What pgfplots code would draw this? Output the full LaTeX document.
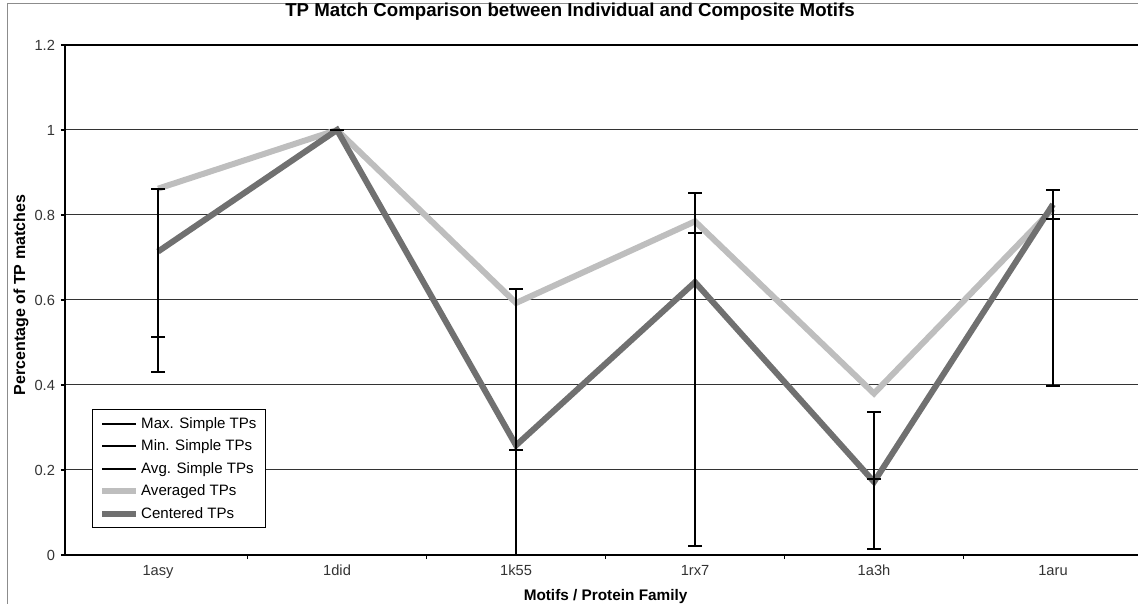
\documentclass[border=0pt]{standalone}
\usepackage{fontspec}
\setmainfont{Liberation Sans}
\usepackage{pgfplots}
\usepackage{pgfplotstable}
\pgfplotsset{compat=1.18}
\definecolor{lightg}{HTML}{BEBEBE}
\definecolor{darkg}{HTML}{707070}
\pgfplotstableread{
x max min avg averaged centered
0 0.860 0.430 0.514 0.862 0.714
1 1.000 1.000 1.000 1.000 1.000
2 0.625 0.000 0.247 0.593 0.258
3 0.851 0.021 0.758 0.785 0.642
4 0.337 0.013 0.178 0.380 0.172
5 0.859 0.398 0.790 0.815 0.825
}\datatable
\begin{document}
\begin{tikzpicture}
\path[use as bounding box] (-48.75pt,-36pt) rectangle (804.75pt,416.25pt);
\draw[black!45, line width=0.75pt] (-42.75pt,-40pt) -- (-42.75pt,413.25pt) -- (820pt,413.25pt);
\begin{axis}[
  name=ax,
  at={(0pt,0pt)}, anchor=south west,
  scale only axis,
  width=804.75pt, height=382.5pt,
  xmin=-0.52, xmax=5.475,
  ymin=0, ymax=1.2,
  axis line style={draw=none},
  ytick={0,0.2,...,1.2},
  ymajorgrids,
  major grid style={black!80, line width=0.75pt},
  xtick={0.5,1.5,2.5,3.5,4.5},
  xticklabels={},
  extra x ticks={0,1,2,3,4,5},
  extra x tick labels={1asy,1did,1k55,1rx7,1a3h,1aru},
  extra x tick style={major tick length=0pt, grid=none},
  tick align=outside,
  major tick length=3pt,
  tick style={black, line width=0.9pt},
  xtick pos=bottom, ytick pos=left,
  ticklabel style={font=\fontsize{11}{13}\selectfont, text=black!80},
  /pgf/number format/assume math mode=true,
  xticklabel style={yshift=-4pt},
  yticklabel style={xshift=-1pt},
  legend style={at={(0.0252,0.053)}, anchor=south west, draw=black, line width=0.75pt,
    font=\fontsize{11.3}{13}\selectfont, cells={anchor=west},
    inner xsep=5pt, inner ysep=3.5pt, row sep=3.2pt},
  legend image code/.code={\draw[#1] (0pt,0pt) -- (25pt,0pt);},
]
\addlegendimage{black, line width=1.5pt}
\addlegendentry{Max. Simple TPs}
\addlegendimage{black, line width=1.5pt}
\addlegendentry{Min. Simple TPs}
\addlegendimage{black, line width=1.5pt}
\addlegendentry{Avg. Simple TPs}
\addplot[lightg, line width=4.5pt, line join=miter, miter limit=3] table[x=x, y=averaged] {\datatable};
\addlegendentry{Averaged TPs}
\addplot[darkg, line width=4.5pt, line join=miter, miter limit=3] table[x=x, y=centered] {\datatable};
\addlegendentry{Centered TPs}
\addplot[forget plot, black, line width=1.5pt, only marks, mark=-, mark size=5.25pt,
  error bars/.cd, y dir=both, y explicit, error mark=|,
  error bar style={black, line width=1.5pt},
  error mark options={black, line width=1.5pt, mark size=5.25pt}]
  table[x=x, y=avg, y error plus expr=\thisrow{max}-\thisrow{avg}, y error minus expr=\thisrow{avg}-\thisrow{min}] {\datatable};
\end{axis}
\draw[black, line width=1.9pt] (ax.south west) -- (ax.north west);
\draw[black, line width=1.9pt] (ax.south west) -- (ax.south east);
\draw[black, line width=1.9pt] (ax.north west) -- (ax.north east);
\node[font=\fontsize{14}{16}\selectfont\bfseries] at (378.75pt,407.5pt) {TP Match Comparison between Individual and Composite Motifs};
\node[font=\fontsize{11.5}{13}\selectfont\bfseries] at (405.4pt,-31.5pt) {Motifs / Protein Family};
\node[font=\fontsize{12}{14}\selectfont\bfseries, rotate=90] at (-33pt,195pt) {Percentage of TP matches};
\end{tikzpicture}
\end{document}
